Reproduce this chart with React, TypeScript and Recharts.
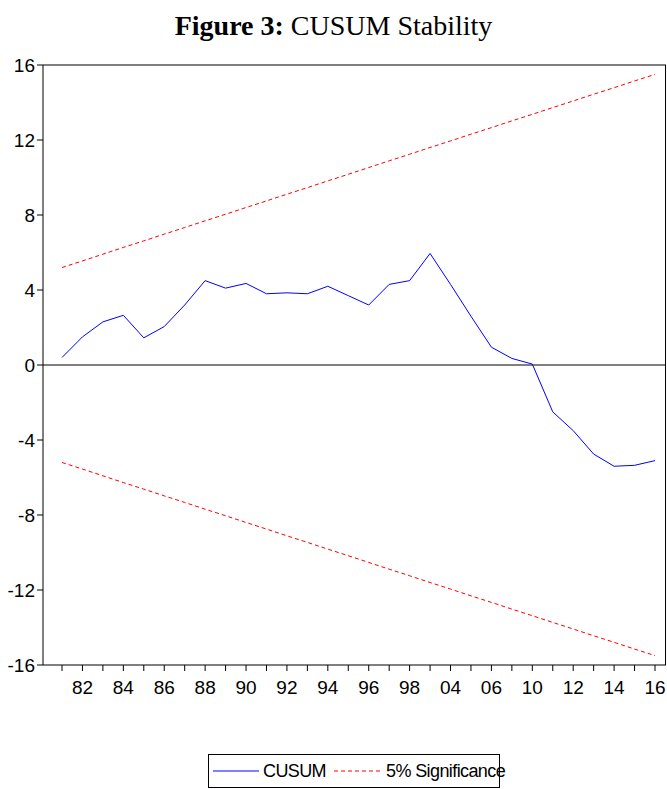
import React from 'react';
import { LineChart, Line, XAxis, YAxis, ReferenceLine } from 'recharts';

const years = ['81','82','83','84','85','86','87','88','89','90','91','92','93','94','95','96','97','98','99','04','05','06','07','10','11','12','13','14','15','16'];
const cusum = [0.4,1.5,2.3,2.65,1.45,2.05,3.2,4.5,4.1,4.35,3.8,3.85,3.8,4.2,3.7,3.2,4.3,4.5,5.95,4.3,2.6,0.95,0.35,0.05,-2.5,-3.5,-4.75,-5.4,-5.35,-5.1];
const upper = [5.2,5.55,5.91,6.27,6.62,6.98,7.33,7.69,8.04,8.4,8.75,9.11,9.46,9.82,10.17,10.53,10.89,11.24,11.6,11.95,12.31,12.66,13.02,13.37,13.73,14.08,14.44,14.79,15.15,15.5];
const lower = upper.map(v => -v);
const yTicks = [-16,-12,-8,-4,0,4,8,12,16];

const data = years.map((y, i) => ({ year: y, cusum: cusum[i], upper: upper[i], lower: lower[i] }));
const font = '"Liberation Sans Narrow", "Liberation Sans", Arial, sans-serif';

export default function App() {
    return (
        <div style={{ position: 'absolute', left: 0, top: 0, width: 667, height: 789, background: '#fff' }}>
            <div style={{ position: 'absolute', top: 10, width: 667, textAlign: 'center', fontFamily: '"Liberation Serif", "Times New Roman", serif', fontSize: 28 }}>
                <b>Figure 3:</b> CUSUM Stability
            </div>
            <div style={{ position: 'absolute', left: 0, top: 0 }}>
                <LineChart width={667} height={720} data={data} margin={{ top: 65, right: 1, bottom: 25, left: 0 }}>
                    <XAxis dataKey="year" interval={0} padding={{ left: 19, right: 11 }} height={30}
                        tickFormatter={(v, i) => (i % 2 === 1 ? v : '')} tickMargin={10}
                        axisLine={{ stroke: '#000' }} tickLine={{ stroke: '#000' }} tickSize={6}
                        tick={{ fill: '#000', fontSize: 19, fontFamily: font }} />
                    <YAxis domain={[-16, 16]} ticks={yTicks} width={43} tickSize={6}
                        axisLine={{ stroke: '#000' }} tickLine={{ stroke: '#000' }}
                        tick={{ fill: '#000', fontSize: 19, fontFamily: font }} />
                    <ReferenceLine y={0} stroke="#000" strokeWidth={1} />
                    <ReferenceLine y={16} stroke="#000" strokeWidth={1} />
                    <Line dataKey="upper" stroke="#ff0000" strokeDasharray="4 3" dot={false} isAnimationActive={false} strokeWidth={1} />
                    <Line dataKey="lower" stroke="#ff0000" strokeDasharray="4 3" dot={false} isAnimationActive={false} strokeWidth={1} />
                    <Line dataKey="cusum" stroke="#0000ff" dot={false} isAnimationActive={false} strokeWidth={1} />
                </LineChart>
            </div>
            <div style={{ position: 'absolute', left: 665, top: 65, width: 1, height: 600, background: '#000' }} />
            <div style={{ position: 'absolute', left: 208, top: 754, width: 292, height: 34, border: '1px solid #000', boxSizing: 'border-box', display: 'flex', alignItems: 'center', whiteSpace: 'nowrap', fontFamily: font, fontSize: 18 }}>
                <svg width={50} height={10} style={{ marginLeft: 4, flexShrink: 0 }}><line x1={0} y1={5} x2={46} y2={5} stroke="#0000ff" /></svg>
                <span style={{ letterSpacing: -0.6 }}>CUSUM</span>
                <svg width={56} height={10} style={{ marginLeft: 4, flexShrink: 0 }}><line x1={4} y1={5} x2={52} y2={5} stroke="#ff0000" strokeDasharray="4 3" /></svg>
                <span style={{ letterSpacing: -0.6 }}>5% Significance</span>
            </div>
        </div>
    );
}
